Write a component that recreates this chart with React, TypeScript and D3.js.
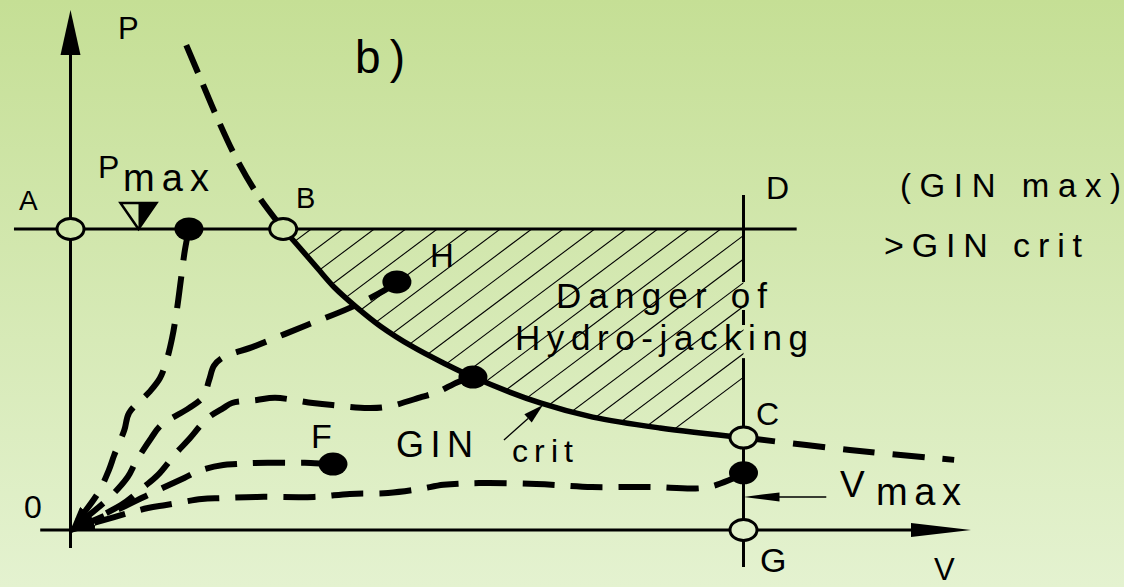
import React from "react";
import * as d3 from "d3";

const W = 1124;
const H = 587;

// GIN crit envelope (solid part B -> C), relative units: V (volume), P (pressure)
const critV = [31.6, 34.1, 36.8, 39.3, 42.3, 46.0, 50.9, 55.4, 59.8, 69.8, 77.6, 87.6, 100];
const critP = [100, 93.7, 86.7, 80.4, 74.4, 67.8, 60.8, 55.5, 50.8, 42.2, 37.5, 33.9, 30.7];
// dashed continuation above B and beyond C
const critUpV = [17.2, 19.4, 21.8, 24.6, 27.9, 31.6];
const critUpP = [161.1, 149.5, 136.9, 123.6, 111.0, 100];
const critLowV = [100, 115.8, 131.3];
const critLowP = [30.7, 26.6, 23.3];

// grouting paths, from origin 0 to their end point
const pathPmaxV = [0, 4.1, 5.7, 6.5, 8.0, 8.7, 11.7, 13.3, 14.3, 15.1, 15.8, 16.4, 17.0, 17.6];
const pathPmaxP = [0, 12.3, 19.9, 24.9, 33.2, 38.9, 45.8, 50.5, 56.5, 63.8, 73.1, 83.1, 93.0, 100];
const pathHV = [0, 5.7, 8.5, 9.7, 12.0, 13.5, 17.6, 19.7, 20.6, 21.3, 22.5, 27.4, 34.8, 41.5, 46.7, 48.5];
const pathHP = [0, 10.6, 17.6, 22.6, 30.6, 34.9, 40.5, 44.2, 49.8, 54.5, 57.1, 61.1, 67.8, 73.8, 79.7, 82.4];
const pathCritV = [0, 7.5, 10.9, 13.0, 15.7, 17.5, 20.4, 22.7, 24.0, 27.7, 30.4, 36.0, 38.9, 44.2, 47.0, 52.2, 54.5, 57.6, 59.8];
const pathCritP = [0, 8.3, 14.3, 18.3, 25.6, 29.9, 37.2, 40.5, 42.2, 43.2, 43.9, 42.2, 41.5, 40.5, 40.9, 44.2, 45.8, 49.2, 50.8];
const pathFV = [0, 5.9, 12.4, 16.9, 19.4, 22.7, 24.7, 27.4, 33.1, 35.7, 39.0];
const pathFP = [0, 5.6, 12.6, 17.3, 19.9, 21.6, 21.9, 22.3, 22.3, 22.3, 21.9];
const pathVmaxV = [0, 6.5, 11.5, 14.2, 19.5, 22.4, 27.7, 36.2, 41.5, 47.2, 51.9, 55.4, 60.7, 69.2, 77.5, 86.1, 94.1, 97.9, 100];
const pathVmaxP = [0, 4.3, 7.3, 8.3, 10.3, 10.6, 11.0, 11.0, 12.0, 12.3, 13.6, 15.0, 15.6, 15.3, 14.3, 14.3, 14.0, 16.6, 19.0];

// key points (open circles)
const openNames = ["A", "B", "C", "G"];
const openV = [0, 31.6, 100, 100];
const openP = [100, 100, 30.7, 0];
// end points of paths (filled dots)
const dotNames = ["Pmax", "H", "GINcrit", "F", "Vmax"];
const dotV = [17.6, 48.5, 59.8, 39.0, 100];
const dotP = [100, 82.4, 50.8, 21.9, 19.0];

// limits
const pmaxLineV = [-8.4, 107.9];
const vmaxSegP = [[111.3, 82.4], [73.1, 68.1], [57.1, -12.3]];

const FONT = "'Liberation Sans', Arial, Helvetica, sans-serif";

export default function App() {
  const x = d3.scaleLinear().domain([0, 100]).range([70.5, 743.5]);
  const y = d3.scaleLinear().domain([0, 100]).range([530, 229]);
  const zip = (a: number[], b: number[]) => a.map((v, i) => [v, b[i]] as [number, number]);
  const line = d3
    .line<[number, number]>()
    .x((d) => x(d[0]))
    .y((d) => y(d[1]))
    .curve(d3.curveCatmullRom.alpha(0.5));

  const critPts = zip(critV, critP);
  const clipD = (line(critPts) as string) + `L${x(100)},${y(100)}Z`;

  const paths = [
    zip(pathPmaxV, pathPmaxP),
    zip(pathHV, pathHP),
    zip(pathCritV, pathCritP),
    zip(pathFV, pathFP),
    zip(pathVmaxV, pathVmaxP),
  ].map((p) => p.slice().reverse());

  // hatch lines
  const slope = 0.75;
  const hatchX0 = 342.7;
  const hatch = d3.range(-12, 20).map((k) => {
    const x0 = hatchX0 + 31.5 * k;
    return { x1: x0, y1: y(100), x2: x0 - 320 / slope, y2: y(100) + 320 };
  });

  const ox = x(0);
  const oy = y(0);

  // P max marker triangle
  const tx = x(10.1);
  const ty = y(100);

  // crit annotation arrow (tail -> tip on curve)
  const cTip = [x(70.2), y(41.5)];
  const cTail = [x(64.4), y(29.9)];
  const ang = Math.atan2(cTip[1] - cTail[1], cTip[0] - cTail[0]);
  const aL = 20, aW = 5.5;
  const cBase = [cTip[0] - aL * Math.cos(ang), cTip[1] - aL * Math.sin(ang)];
  const cPerp = [-Math.sin(ang) * aW, Math.cos(ang) * aW];

  // V max arrow
  const vTipX = x(100);
  const vY = y(11.0);
  const vTailX = x(112.3);

  const txt = { fontFamily: FONT, fill: "#000" } as const;

  return (
    <svg
      width={W}
      height={H}
      viewBox={`0 0 ${W} ${H}`}
      style={{ position: "absolute", left: 0, top: 0, display: "block" }}
    >
      <defs>
        <linearGradient id="bg" x1="0" y1="0" x2="0" y2={H} gradientUnits="userSpaceOnUse">
          <stop offset="0" stopColor="#c5df95" />
          <stop offset="1" stopColor="#e4f2d0" />
        </linearGradient>
        <clipPath id="hatchClip">
          <path d={clipD} />
        </clipPath>
        <marker
          id="arr"
          markerUnits="userSpaceOnUse"
          viewBox="0 0 24 14"
          refX="24"
          refY="7"
          markerWidth="24"
          markerHeight="14"
          orient="auto"
        >
          <path d="M0,0 L24,7 L0,14 Z" fill="#000" />
        </marker>
      </defs>

      <rect x={0} y={0} width={W} height={H} fill="url(#bg)" />

      {/* hatching */}
      <g clipPath="url(#hatchClip)">
        {hatch.map((h, i) => (
          <line key={i} x1={h.x1} y1={h.y1} x2={h.x2} y2={h.y2} stroke="#000" strokeWidth={1.1} />
        ))}
      </g>

      {/* axes */}
      <line x1={ox} y1={y(-6)} x2={ox} y2={50} stroke="#000" strokeWidth={3} />
      <path d={`M${ox},10 L${ox - 10},55 L${ox + 10},55 Z`} fill="#000" />
      <line x1={x(-4.5)} y1={oy} x2={915} y2={oy} stroke="#000" strokeWidth={3} />
      <path d={`M971,${oy} L911,${oy - 7} L911,${oy + 7} Z`} fill="#000" />

      {/* P max line */}
      <line x1={x(pmaxLineV[0])} y1={y(100)} x2={x(pmaxLineV[1])} y2={y(100)} stroke="#000" strokeWidth={3} />
      {/* V max line */}
      {vmaxSegP.map((s, i) => (
        <line key={i} x1={x(100)} y1={y(s[0])} x2={x(100)} y2={y(s[1])} stroke="#000" strokeWidth={3} />
      ))}

      {/* GIN crit envelope */}
      <path d={line(critPts) as string} fill="none" stroke="#000" strokeWidth={5.5} />
      <path
        d={line(zip(critUpV, critUpP)) as string}
        fill="none"
        stroke="#000"
        strokeWidth={6}
        strokeDasharray="30 13"
      />
      <path
        d={line(zip(critLowV, critLowP)) as string}
        fill="none"
        stroke="#000"
        strokeWidth={6}
        strokeDasharray="32 18"
      />

      {/* grouting paths */}
      {paths.map((p, i) => (
        <path
          key={i}
          d={line(p) as string}
          fill="none"
          stroke="#000"
          strokeWidth={6}
          strokeDasharray="32 16"
          markerEnd="url(#arr)"
        />
      ))}

      {/* P max marker */}
      <path d={`M${tx},${ty} L${tx + 18},${ty - 26} L${tx},${ty - 26} Z`} fill="#000" />
      <path
        d={`M${tx},${ty} L${tx - 18},${ty - 26} L${tx + 18},${ty - 26} Z`}
        fill="none"
        stroke="#000"
        strokeWidth={2.5}
        strokeLinejoin="miter"
      />

      {/* crit annotation arrow */}
      <line x1={cTail[0]} y1={cTail[1]} x2={cBase[0]} y2={cBase[1]} stroke="#000" strokeWidth={1.3} />
      <path
        d={`M${cTip[0]},${cTip[1]} L${cBase[0] + cPerp[0]},${cBase[1] + cPerp[1]} L${cBase[0] - cPerp[0]},${cBase[1] - cPerp[1]} Z`}
        fill="#000"
      />

      {/* V max arrow */}
      <line x1={vTailX} y1={vY} x2={vTipX + 30} y2={vY} stroke="#000" strokeWidth={1.5} />
      <path d={`M${vTipX},${vY} L${vTipX + 36},${vY - 4.5} L${vTipX + 36},${vY + 4.5} Z`} fill="#000" />

      {/* open key points */}
      {openNames.map((n, i) => (
        <ellipse
          key={n}
          cx={x(openV[i])}
          cy={y(openP[i])}
          rx={13.5}
          ry={10.5}
          fill="url(#bg)"
          stroke="#000"
          strokeWidth={3}
        />
      ))}
      {/* filled end points */}
      {dotNames.map((n, i) => (
        <ellipse key={n} cx={x(dotV[i])} cy={y(dotP[i])} rx={14.5} ry={11.5} fill="#000" />
      ))}

      {/* labels */}
      <text x={118} y={39} fontSize={31} {...txt}>P</text>
      <text x={355} y={73} fontSize={46} textLength={50} lengthAdjust="spacing" {...txt}>b )</text>
      <text x={98} y={178} fontSize={32} {...txt}>P</text>
      <text x={123} y={191} fontSize={38} textLength={86} lengthAdjust="spacing" {...txt}>max</text>
      <text x={19} y={210} fontSize={28} {...txt}>A</text>
      <text x={296} y={208} fontSize={29} {...txt}>B</text>
      <text x={430} y={267} fontSize={33} {...txt}>H</text>
      <text x={766} y={199} fontSize={32} {...txt}>D</text>
      <text x={900} y={197} fontSize={33} textLength={221} lengthAdjust="spacing" {...txt}>(GIN max)</text>
      <text x={884} y={257} fontSize={34} textLength={198} lengthAdjust="spacing" {...txt}>&gt;GIN crit</text>
      <text x={556} y={308} fontSize={35} textLength={211} lengthAdjust="spacing" {...txt}>Danger of</text>
      <text x={515} y={350} fontSize={35} textLength={293} lengthAdjust="spacing" {...txt}>Hydro-jacking</text>
      <text x={756} y={425} fontSize={32} {...txt}>C</text>
      <text x={311} y={448} fontSize={34} {...txt}>F</text>
      <text x={396} y={457} fontSize={36} textLength={77} lengthAdjust="spacing" {...txt}>GIN</text>
      <text x={512} y={462} fontSize={32} textLength={61} lengthAdjust="spacing" {...txt}>crit</text>
      <text x={24} y={518} fontSize={32} {...txt}>0</text>
      <text x={840} y={497} fontSize={37} {...txt}>V</text>
      <text x={876} y={505} fontSize={38} textLength={85} lengthAdjust="spacing" {...txt}>max</text>
      <text x={760} y={572} fontSize={34} {...txt}>G</text>
      <text x={934} y={580} fontSize={31} {...txt}>V</text>
    </svg>
  );
}
